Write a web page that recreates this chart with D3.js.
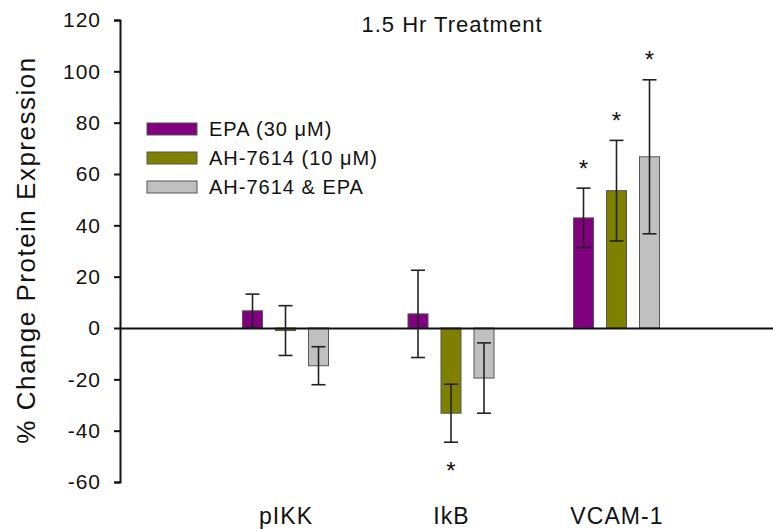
<!DOCTYPE html>
<html>
<head>
<meta charset="utf-8" />
<title>1.5 Hr Treatment</title>
<style>
body { margin: 0; background: #fff; }
#graph { width: 773px; height: 531px; font-family: Arial, "Liberation Sans", sans-serif; }
text { fill: #111; }
.axis path, .axis line { stroke: #111; stroke-width: 2px; }
.axis text { font-size: 21px; letter-spacing: 1px; fill: #111; font-family: Arial, "Liberation Sans", sans-serif; }
.xlab text { font-size: 23px; letter-spacing: 1.1px; }
.legend text { font-size: 20px; letter-spacing: 1px; }
.err line { stroke: #222; stroke-width: 1.6px; }
</style>
</head>
<body>
<div id="graph"></div>
<script src="https://cdnjs.cloudflare.com/ajax/libs/d3/7.8.5/d3.min.js"></script>
<script>
// data
var categories = ["pIKK", "IkB", "VCAM-1"]
var series = ["EPA (30 \u03bcM)", "AH-7614 (10 \u03bcM)", "AH-7614 & EPA"]
var epaMean = [6.7, 5.5, 42.9]
var epaErr = [6.5, 17.0, 11.6]
var ahMean = [-1.0, -33.2, 53.5]
var ahErr = [9.7, 11.3, 19.6]
var bothMean = [-14.7, -19.5, 66.7]
var bothErr = [7.4, 13.7, 30.0]
// significance stars: +1 above the bar, -1 below, 0 none
var epaSig = [0, 0, 1]
var ahSig = [0, -1, 1]
var bothSig = [0, 0, 1]
var yTicks = [-60, -40, -20, 0, 20, 40, 60, 80, 100, 120]
var colors = ["#800080", "#808000", "#c0c0c0"]

var width = 773, height = 531
var svg = d3.select("#graph").append("svg").attr("width", width).attr("height", height)

var y = d3.scaleLinear().domain([-60, 120]).range([482, 20])
var x = d3.scaleLinear().domain([0, 4]).range([120, 782])
var sub = d3.scaleBand().domain(series).range([-43, 43]).paddingInner(0.394)

var means = [epaMean, ahMean, bothMean]
var errs = [epaErr, ahErr, bothErr]
var sigs = [epaSig, ahSig, bothSig]

var data = []
categories.forEach(function(c, i) {
    series.forEach(function(s, j) {
        data.push({cat: c, idx: i + 1, s: s, j: j, v: means[j][i], e: errs[j][i], sig: sigs[j][i]})
    })
})

// y axis
svg.append("g").attr("class", "axis")
    .attr("transform", "translate(120,0)")
    .call(d3.axisLeft(y).tickValues(yTicks).tickSize(6).tickSizeOuter(6).tickPadding(13)
        .tickFormat(function(d) { return String(d) }))

// bars
var bx = function(d) { return x(d.idx) + sub(d.s) }
svg.append("g").selectAll("rect").data(data).enter().append("rect")
    .attr("x", bx)
    .attr("width", sub.bandwidth())
    .attr("y", function(d) { return y(Math.max(0, d.v)) })
    .attr("height", function(d) { return Math.abs(y(d.v) - y(0)) })
    .attr("fill", function(d) { return colors[d.j] })
    .attr("stroke", "#555")
    .attr("stroke-width", 1)

// zero line
svg.append("g").attr("class", "axis")
    .attr("transform", "translate(0," + y(0) + ")")
    .call(d3.axisBottom(x).tickValues([]).tickSizeOuter(0))

// error bars
var cap = 7
var eg = svg.append("g").attr("class", "err").selectAll("g").data(data).enter().append("g")
    .attr("transform", function(d) { return "translate(" + (bx(d) + sub.bandwidth() / 2) + ",0)" })
eg.append("line").attr("x1", 0).attr("x2", 0)
    .attr("y1", function(d) { return y(d.v + d.e) })
    .attr("y2", function(d) { return y(d.v - d.e) })
eg.append("line").attr("x1", -cap).attr("x2", cap)
    .attr("y1", function(d) { return y(d.v + d.e) })
    .attr("y2", function(d) { return y(d.v + d.e) })
eg.append("line").attr("x1", -cap).attr("x2", cap)
    .attr("y1", function(d) { return y(d.v - d.e) })
    .attr("y2", function(d) { return y(d.v - d.e) })

// stars
eg.filter(function(d) { return d.sig !== 0 }).append("text")
    .attr("text-anchor", "middle")
    .attr("font-size", 24)
    .attr("y", function(d) {
        var c = d.sig > 0 ? y(d.v + d.e) - 25 : y(d.v - d.e) + 23
        return c + 13.5
    })
    .text("*")

// category labels
svg.append("g").attr("class", "axis xlab")
    .attr("transform", "translate(0,500)")
    .call(d3.axisBottom(x).tickValues([1, 2, 3]).tickSize(0).tickPadding(8)
        .tickFormat(function(d) { return categories[d - 1] }))
    .call(function(g) { g.select(".domain").remove() })

// title
svg.append("text")
    .attr("x", 452).attr("y", 32)
    .attr("text-anchor", "middle")
    .attr("font-size", 22)
    .attr("letter-spacing", 1)
    .text("1.5 Hr Treatment")

// y axis title
svg.append("text")
    .attr("transform", "translate(35,250) rotate(-90)")
    .attr("text-anchor", "middle")
    .attr("font-size", 26)
    .attr("letter-spacing", 1.5)
    .text("% Change Protein Expression")

// legend
var lg = svg.append("g").attr("class", "legend")
    .selectAll("g").data(series).enter().append("g")
    .attr("transform", function(d, i) { return "translate(147," + (129 + i * 29) + ")" })
lg.append("rect")
    .attr("x", 0).attr("y", -6).attr("width", 50).attr("height", 12)
    .attr("fill", function(d, i) { return colors[i] })
    .attr("stroke", "#555").attr("stroke-width", 1)
lg.append("text")
    .attr("x", 62).attr("dy", "0.36em")
    .text(function(d) { return d })
</script>
</body>
</html>
